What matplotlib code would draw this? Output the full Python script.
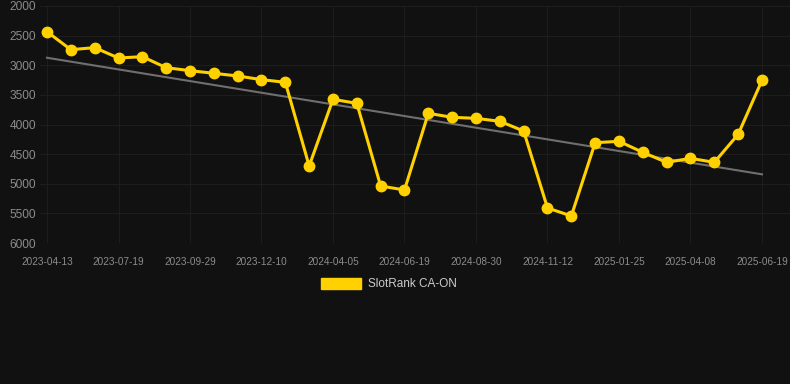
import numpy as np
import matplotlib
matplotlib.use("Agg")
import matplotlib.pyplot as plt
from matplotlib.patches import Rectangle

# rank values, one point per sample (31 samples)
ranks = [2434, 2737, 2703, 2878, 2855, 3041, 3091, 3136, 3181, 3243, 3288,
         4700, 3575, 3643, 5038, 5105, 3811, 3879, 3896, 3946, 4110, 5409,
         5544, 4307, 4284, 4470, 4639, 4571, 4639, 4166, 3254]
# only every third sample carries a visible date label
tick_labels = ["2023-04-13", "2023-07-19", "2023-09-29", "2023-12-10",
               "2024-04-05", "2024-06-19", "2024-08-30", "2024-11-12",
               "2025-01-25", "2025-04-08", "2025-06-19"]
y_ticks = [2000, 2500, 3000, 3500, 4000, 4500, 5000, 5500, 6000]
series_name = "SlotRank CA-ON"

bg = "#111111"
gold = "#FFD100"
grid_col = "#1d1d1d"
label_col = "#8c8c8c"

plt.rcParams["font.family"] = ["Liberation Sans", "DejaVu Sans"]

fig = plt.figure(figsize=(7.9, 3.84), dpi=100, facecolor=bg)
ax = fig.add_axes([40 / 790, 1 - 243 / 384, 750 / 790, 237 / 384])
ax.set_facecolor(bg)

x = np.arange(len(ranks))

# linear trend through the series
slope, icpt = np.polyfit(x, ranks, 1)
ax.plot(x, slope * x + icpt, color="#6f6f6f", lw=1.5, zorder=2)

ax.plot(x, ranks, color=gold, lw=2.2, marker="o", ms=7.5,
        markerfacecolor=gold, markeredgecolor=gold, zorder=3)

ax.set_ylim(6000, 2000)
ax.set_xlim(-7 / 23.83, 30 + 28 / 23.83)
ax.set_yticks(y_ticks)
ax.set_yticklabels([str(v) for v in y_ticks])
ax.set_xticks(x[::3])
ax.set_xticklabels(tick_labels)

ax.grid(True, color=grid_col, lw=0.8)
ax.set_axisbelow(True)
for s in ax.spines.values():
    s.set_visible(False)
ax.tick_params(axis="y", length=0, pad=3, labelsize=8.6, labelcolor=label_col)
ax.tick_params(axis="x", length=0, pad=10, labelsize=7.2, labelcolor=label_col)

# legend drawn by hand to sit like the original
fig.add_artist(Rectangle((321 / 790, 1 - 289 / 384), 40 / 790, 11 / 384,
                         transform=fig.transFigure, facecolor=gold,
                         edgecolor=gold))
fig.text(368 / 790, 1 - 284 / 384, series_name, color="#cccccc",
         fontsize=8.5, va="center", ha="left")

fig.savefig("out.png", dpi=100, facecolor=bg)
